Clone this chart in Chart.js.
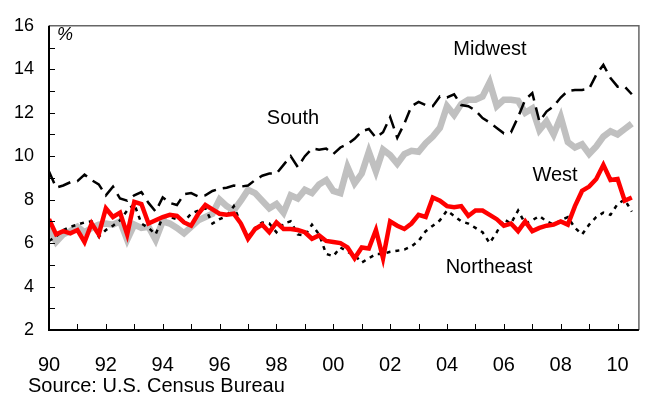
<!DOCTYPE html>
<html>
<head>
<meta charset="utf-8">
<script src="https://cdn.jsdelivr.net/npm/chart.js@4.4.1/dist/chart.umd.min.js"></script>
<style>
  body { margin: 0; background: #fff; }
  canvas { display: block; }
</style>
</head>
<body>
<canvas id="vacancyChart" width="652" height="401"></canvas>
<script>
    // Quarterly rental vacancy rates by region, 1990Q1 - 2010Q3 (%)
    var firstYear = 1990;

    var midwest = [9.3, 8.55, 8.65, 8.8, 8.85, 9.15, 8.9, 8.7, 8.2, 8.6, 8.05, 7.95, 8.2, 8.35,
        7.85, 7.45, 8.1, 7.85, 7.75, 8.25, 8.3, 8.15, 8.2, 8.4, 8.5, 8.55, 8.65, 8.6, 8.65,
        8.9, 9.1, 9.2, 9.2, 9.6, 10.0, 9.5, 10.0, 10.35, 10.3, 10.35, 10.1, 10.4, 10.55,
        10.8, 11.15, 11.25, 10.85, 11.1, 11.8, 10.85, 11.5, 12.3, 12.5, 12.35, 12.3, 12.75,
        12.7, 12.85, 12.35, 12.3, 12.1, 11.75, 11.55, 11.3, 11.05, 11.1, 11.8, 12.6, 12.9, 11.6,
        12.05, 12.3, 12.7, 13.0, 13.05, 13.05, 13.1, 13.75, 14.2, 13.6, 13.2, 13.2, 12.85];

    var south = [6.7, 6.05, 6.4, 6.55, 6.75, 6.5, 6.7, 6.85, 6.9, 6.85, 7.0, 6.15, 6.85, 6.7, 6.75,
        6.15, 7.0, 6.9, 6.7, 6.45, 6.75, 7.05, 7.2, 7.35, 8.0, 7.7, 7.5, 7.95,
        8.45, 8.3, 7.95, 7.6, 7.8, 7.4, 8.2, 8.05, 8.45, 8.3, 8.7, 8.9, 8.4, 8.3,
        9.5, 8.75, 9.2, 10.2, 9.3, 10.3, 10.05, 9.65, 10.1, 10.25, 10.2, 10.6, 10.9, 11.3,
        12.3, 11.9, 12.4, 12.6, 12.6, 12.75, 13.4, 12.3, 12.6, 12.6, 12.55, 12.0, 12.2, 11.2,
        11.6, 11.0, 11.8, 10.65, 10.4, 10.55, 10.1, 10.45, 10.9, 11.15, 11.0, 11.25, 11.5];

    var west = [7.1, 6.4, 6.55, 6.45, 6.6, 6.05, 6.9, 6.4, 7.6, 7.2, 7.4, 6.4, 7.9, 7.8, 6.9,
        7.05, 7.2, 7.3, 7.25, 6.95, 6.8, 7.35, 7.75, 7.55, 7.35, 7.3, 7.35, 6.9, 6.2,
        6.65, 6.85, 6.5, 6.95, 6.65, 6.65, 6.6, 6.5, 6.2, 6.35, 6.1, 6.05, 6.0,
        5.8, 5.3, 5.8, 5.75, 6.6, 5.3, 7.0, 6.8, 6.65, 6.9, 7.3, 7.2, 8.1, 7.95, 7.7,
        7.65, 7.7, 7.25, 7.5, 7.5, 7.3, 7.1, 6.8, 6.9, 6.55, 7.0, 6.55, 6.7, 6.8,
        6.85, 7.0, 6.85, 7.7, 8.4, 8.6, 8.95, 9.6, 8.9, 8.95, 7.95, 8.1];

    var northeast = [6.1, 6.3, 6.6, 6.75, 6.85, 6.95, 7.0, 6.3, 6.6, 6.8, 7.05, 7.5, 7.8, 6.9, 6.7,
        6.4, 7.2, 7.2, 7.1, 7.0, 7.35, 7.5, 7.6, 6.9, 7.1, 7.25, 7.7, 6.9, 6.3,
        6.7, 6.95, 6.9, 6.5, 6.9, 7.0, 6.4, 6.35, 6.85, 6.4, 5.5, 5.4, 5.8,
        5.6, 5.45, 5.1, 5.3, 5.5, 5.5, 5.6, 5.65, 5.7, 5.85, 6.1, 6.55, 6.8, 7.05,
        7.5, 7.25, 7.0, 6.9, 6.7, 6.5, 6.0, 6.5, 7.1, 6.9, 7.5, 6.9, 7.05, 7.25,
        7.0, 6.85, 7.05, 7.2, 6.7, 6.4, 6.85, 7.2, 7.4, 7.3, 7.8, 8.0, 7.45];

    var tickYears = [1990, 1992, 1994, 1996, 1998, 2000, 2002, 2004, 2006, 2008, 2010];
    var tickLabels = ['90', '92', '94', '96', '98', '00', '02', '04', '06', '08', '10'];

    var fontFamily = "'Liberation Sans', Arial, Helvetica, sans-serif";

    function toPoints(values) {
        return values.map(function (v, i) {
            return { x: firstYear + i / 4, y: v };
        });
    }

    // inward tick marks and the frame round the plot area
    var framePlugin = {
        id: 'frame',
        afterDatasetsDraw: function (chart) {
            var ctx = chart.ctx;
            var a = chart.chartArea;
            var xs = chart.scales.x;
            var ys = chart.scales.y;
            ctx.save();
            ctx.strokeStyle = '#666';
            ctx.lineWidth = 1.5;
            ctx.beginPath();
            ctx.moveTo(a.left, a.top);
            ctx.lineTo(a.right, a.top);
            ctx.lineTo(a.right, a.bottom);
            ctx.stroke();

            ctx.strokeStyle = '#000';
            ctx.lineWidth = 1;
            ctx.beginPath();
            for (var v = 3; v < 16; v++) {
                var py = Math.round(ys.getPixelForValue(v)) + 0.5;
                ctx.moveTo(a.left, py);
                ctx.lineTo(a.left + 6, py);
            }
            for (var yr = 1991; yr <= 2010; yr++) {
                var px = Math.round(xs.getPixelForValue(yr)) + 0.5;
                ctx.moveTo(px, a.bottom);
                ctx.lineTo(px, a.bottom - 6);
            }
            ctx.stroke();

            ctx.lineWidth = 2;
            ctx.beginPath();
            ctx.moveTo(a.left, a.top);
            ctx.lineTo(a.left, a.bottom);
            ctx.lineTo(a.right, a.bottom);
            ctx.stroke();
            ctx.restore();
        }
    };

    // series names, unit and source note
    var labelPlugin = {
        id: 'labels',
        afterDraw: function (chart) {
            var ctx = chart.ctx;
            ctx.save();
            ctx.fillStyle = '#000';
            ctx.textBaseline = 'middle';
            ctx.textAlign = 'center';
            ctx.font = '20px ' + fontFamily;
            ctx.fillText('Midwest', 490, 49);
            ctx.fillText('South', 293, 118);
            ctx.fillText('West', 555, 175);
            ctx.fillText('Northeast', 489, 267);
            ctx.font = 'italic 18px ' + fontFamily;
            ctx.fillText('%', 65, 35);
            ctx.textAlign = 'left';
            ctx.textBaseline = 'alphabetic';
            ctx.font = '20px ' + fontFamily;
            ctx.fillText('Source: U.S. Census Bureau', 28, 392);
            ctx.restore();
        }
    };

    var ctxVacancy = document.getElementById('vacancyChart').getContext('2d');
    new Chart(ctxVacancy, {
        type: 'line',
        data: {
            datasets: [{
                label: 'West',
                data: toPoints(west),
                borderColor: '#ff0000',
                borderWidth: 4.5,
                pointRadius: 0,
                tension: 0
            }, {
                label: 'Midwest',
                data: toPoints(midwest),
                borderColor: '#000000',
                borderWidth: 2.5,
                borderDash: [13, 7],
                pointRadius: 0,
                tension: 0
            }, {
                label: 'Northeast',
                data: toPoints(northeast),
                borderColor: '#000000',
                borderWidth: 2.5,
                borderDash: [4, 5],
                pointRadius: 0,
                tension: 0
            }, {
                label: 'South',
                data: toPoints(south),
                borderColor: '#c0c0c0',
                borderWidth: 6.5,
                pointRadius: 0,
                tension: 0
            }]
        },
        options: {
            responsive: false,
            animation: false,
            devicePixelRatio: 1,
            layout: {
                padding: { top: 17, right: 8, left: 0, bottom: 0 }
            },
            plugins: {
                legend: { display: false },
                tooltip: { enabled: false }
            },
            scales: {
                x: {
                    type: 'linear',
                    min: 1990,
                    max: 2010.75,
                    grid: { display: false, drawTicks: false },
                    border: { display: false },
                    ticks: {
                        stepSize: 2,
                        includeBounds: false,
                        autoSkip: false,
                        maxRotation: 0,
                        padding: 23,
                        color: '#000',
                        font: { size: 20, family: fontFamily },
                        callback: function (value) {
                            var k = tickYears.indexOf(value);
                            return k < 0 ? '' : tickLabels[k];
                        }
                    },
                    afterFit: function (scale) { scale.height = 71; }
                },
                y: {
                    min: 2,
                    max: 16,
                    grid: { display: false, drawTicks: false },
                    border: { display: false },
                    ticks: {
                        stepSize: 2,
                        padding: 15,
                        color: '#000',
                        font: { size: 18, family: fontFamily }
                    },
                    afterFit: function (scale) { scale.width = 49; }
                }
            }
        },
        plugins: [framePlugin, labelPlugin]
    });
</script>
</body>
</html>
